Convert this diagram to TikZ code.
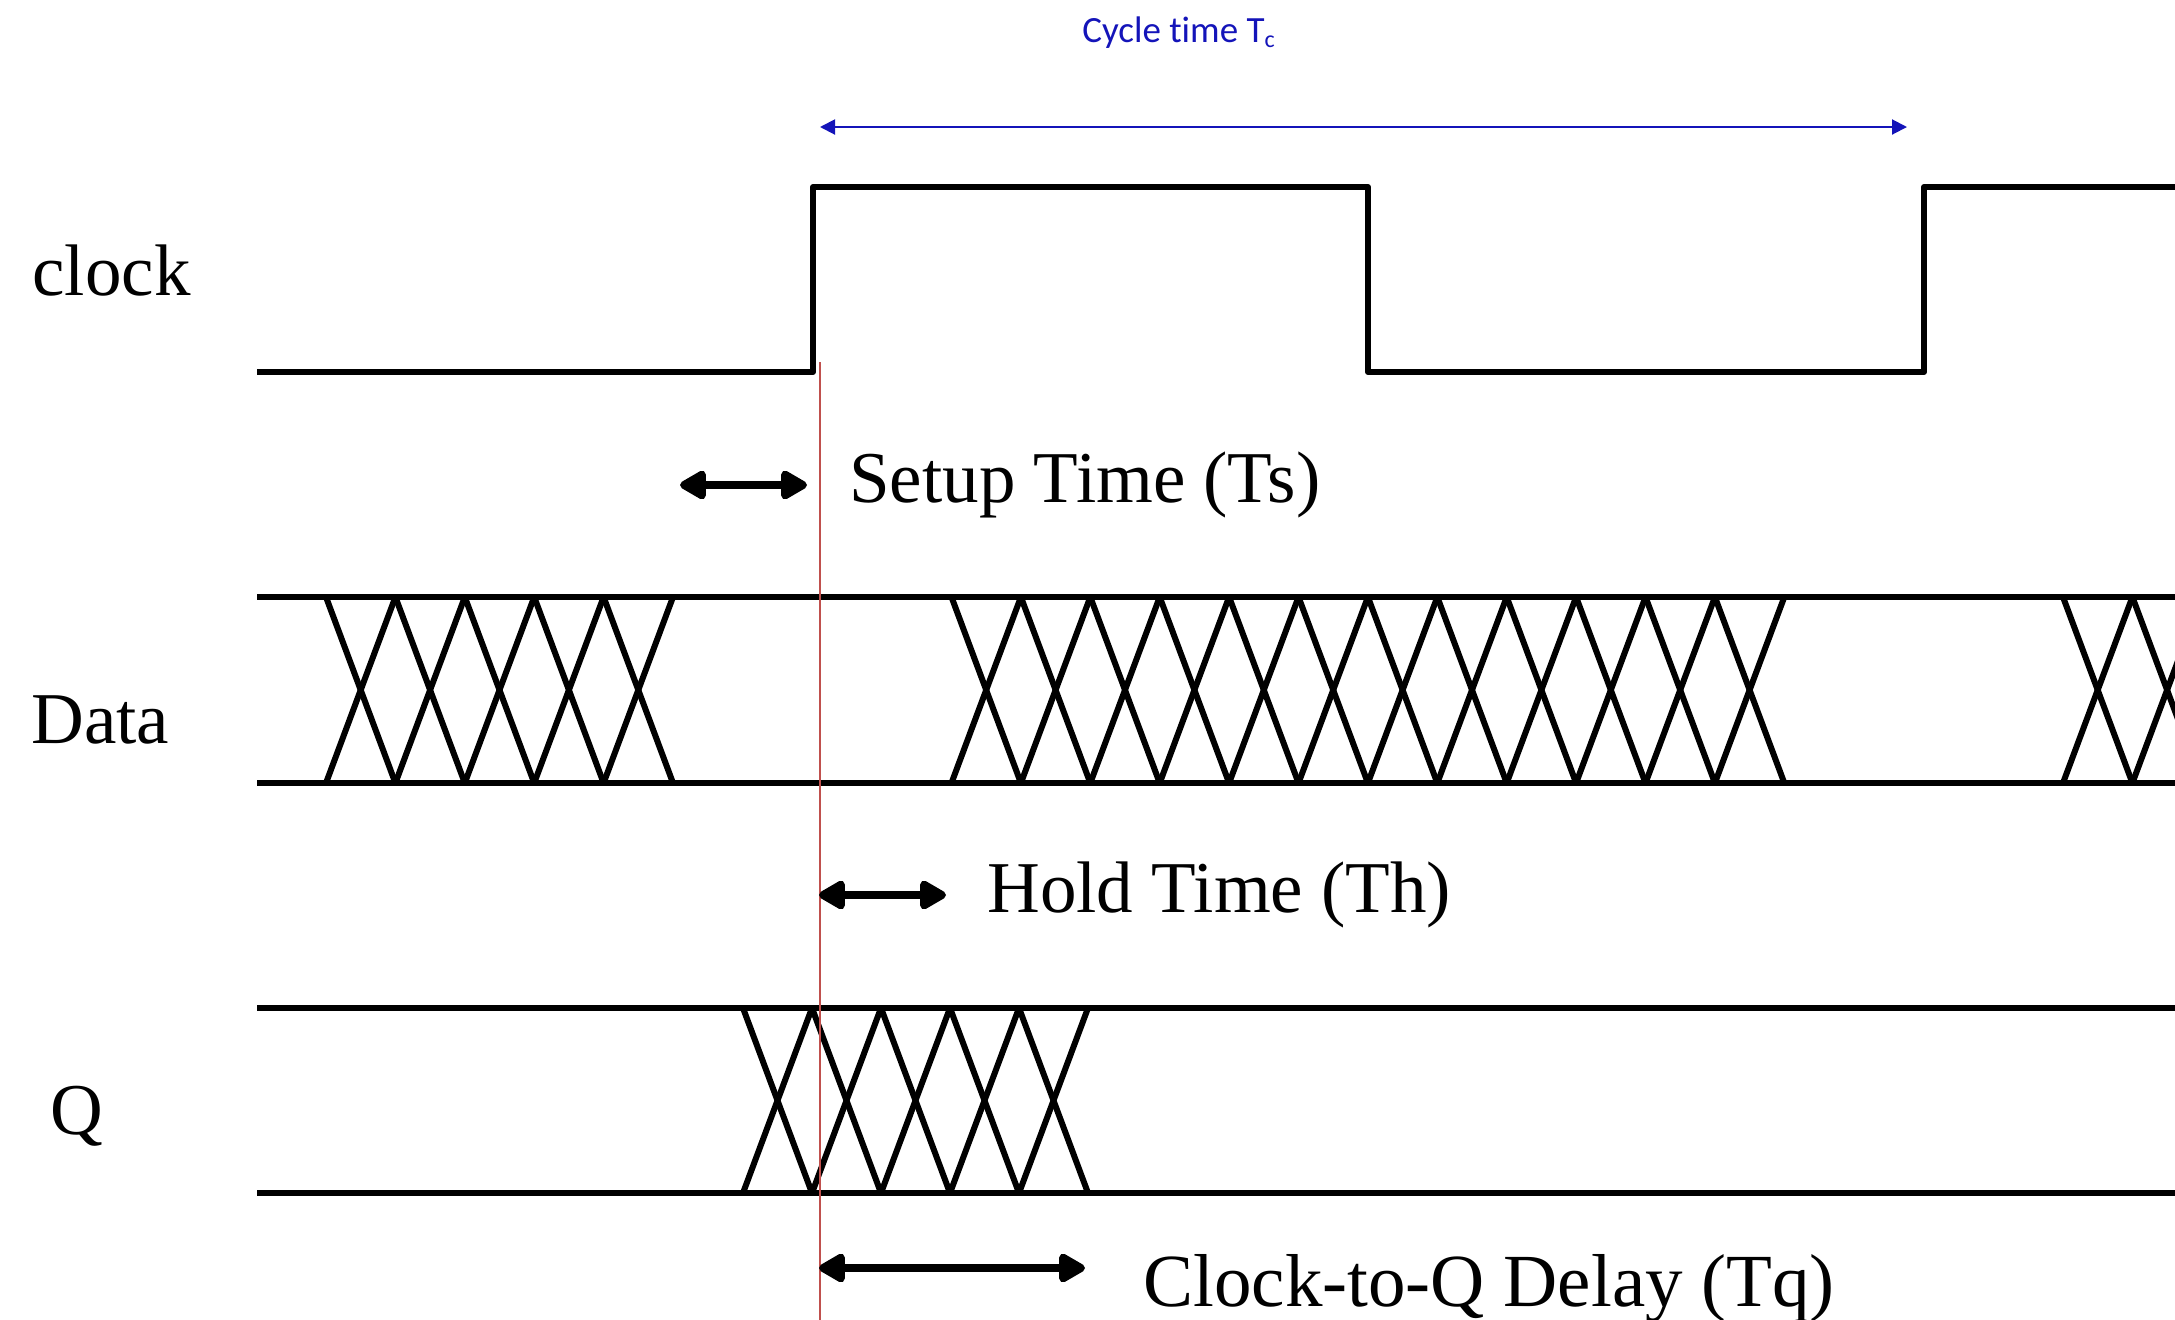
\documentclass[tikz,border=0pt]{standalone}
\usepackage{fontspec}
\setmainfont{Liberation Serif}
\newfontfamily\calib[Ligatures={NoCommon}]{Carlito}
\usetikzlibrary{arrows.meta}
\definecolor{cyblue}{RGB}{20,20,185}
\definecolor{refred}{RGB}{192,80,77}
\tikzset{
  sig/.style={line width=3pt, line join=round},
  xing/.style={line width=3pt, line join=round},
  lbl/.style={inner sep=0pt, anchor=base west, font=\fontsize{36.5}{40}\selectfont},
  dimarrow/.style={line width=4.2pt, {Triangle[length=15pt,width=16pt,round]}-{Triangle[length=15pt,width=16pt,round]}},
  cycarrow/.style={cyblue, line width=1pt, {Triangle[length=7.5pt,width=7.5pt]}-{Triangle[length=7.5pt,width=7.5pt]}},
}
\begin{document}
\begin{tikzpicture}[x=0.5pt,y=-0.5pt]
\useasboundingbox (0,0) rectangle (2175,1319);
\clip (0,0) rectangle (2175,1319);
% labels
\node[lbl] (lclock) at (32,295) {clock};
\node[lbl] (ldata) at (31,743) {Data};
\node[lbl] (lq) at (50,1134) {Q};
\node[lbl] (lsetup) at (849,502) {Setup Time (Ts)};
\node[lbl] (lhold) at (987,912) {Hold Time (Th)};
\node[lbl, font=\fontsize{37.5}{40}\selectfont] (lctq) at (1143,1306) {Clock-to-Q Delay (Tq)};
\node[inner sep=0pt, anchor=base west, text=cyblue, font=\calib\fontsize{18.5}{20}\selectfont] (lcyc) at (1082,42) {Cycle time T\raisebox{-2.5pt}{\fontsize{12}{12}\selectfont c}};
% clock
\draw[sig] (257,372) -- (813,372) -- (813,187) -- (1368,187) -- (1368,372) -- (1924,372) -- (1924,187) -- (2185,187);
% data
\draw[sig] (257,597) -- (2185,597);
\draw[sig] (257,783) -- (2185,783);
\foreach \s/\n in {326/5, 951.5/12, 2063/2} {
  \foreach \i in {1,...,\n} {
    \pgfmathsetmacro{\xa}{\s+(\i-1)*69.4}
    \pgfmathsetmacro{\xb}{\s+\i*69.4}
    \draw[xing] (\xa,597) -- (\xb,783);
    \draw[xing] (\xa,783) -- (\xb,597);
  }
}
% Q
\draw[sig] (257,1008) -- (2185,1008);
\draw[sig] (257,1193) -- (2185,1193);
\foreach \i in {1,...,5} {
  \pgfmathsetmacro{\xa}{743+(\i-1)*69}
  \pgfmathsetmacro{\xb}{743+\i*69}
  \draw[xing] (\xa,1008) -- (\xb,1193);
  \draw[xing] (\xa,1193) -- (\xb,1008);
}
% reference line
\coordinate (rtop) at (820,362);
\coordinate (rbot) at (820,1325);
\draw[refred, line width=0.8pt] (rtop) -- (rbot);
% cycle arrow
\coordinate (cyA) at (820,127);
\coordinate (cyB) at (1907,127);
\draw[cycarrow] (cyA) -- (cyB);
% dimension arrows
\coordinate (suA) at (680,485);
\coordinate (suB) at (807,485);
\draw[dimarrow] (suA) -- (suB);
\coordinate (hoA) at (819,895);
\coordinate (hoB) at (946,895);
\draw[dimarrow] (hoA) -- (hoB);
\coordinate (cqA) at (819,1268);
\coordinate (cqB) at (1085,1268);
\draw[dimarrow] (cqA) -- (cqB);
\end{tikzpicture}
\end{document}
